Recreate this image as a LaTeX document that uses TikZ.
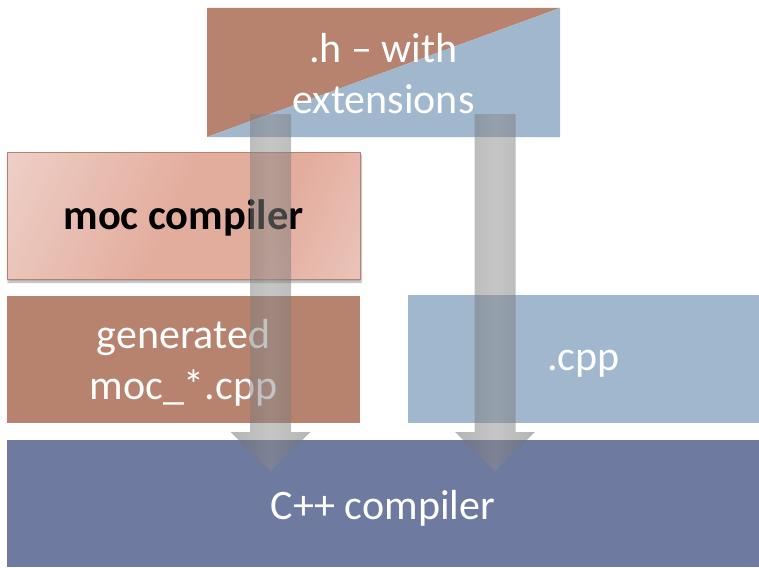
\documentclass[tikz,border=0pt]{standalone}
\usepackage{fontspec}
\setmainfont{Carlito}
\usetikzlibrary{calc,shadows.blur}
\definecolor{hbrown}{RGB}{183,131,111}
\definecolor{hblue}{RGB}{160,183,206}
\definecolor{cblue}{RGB}{111,122,161}
\definecolor{mocedge}{RGB}{184,128,112}
\definecolor{moclight}{RGB}{238,206,197}
\definecolor{mocmid}{RGB}{227,173,158}
\definecolor{mocend}{RGB}{236,200,190}
% soft pink fill: light corners, broad darker middle
\pgfdeclarehorizontalshading{mocfill}{100bp}{color(0bp)=(moclight); color(18bp)=(moclight);
  color(48bp)=(mocmid); color(66bp)=(mocmid); color(86bp)=(mocend); color(100bp)=(mocend)}
\tikzset{
  block/.style={inner sep=0pt, outer sep=0pt},
  caption/.style={inner sep=0pt, align=center, text=white,
    font=\fontsize{42}{51}\selectfont},
  fatarrow/.style={left color=black!58, right color=black!58, middle color=black!45,
    fill opacity=0.5},
}
% broad semi-transparent arrow from #1 (top of shaft) to #2 (tip)
\newcommand\fatarrow[2]{%
  \shade[fatarrow] ($(#1)+(-20.5,0)$) -- ($(#1)+(20.5,0)$) -- ($(#2)+(20.5,-39)$)
    -- ($(#2)+(40,-39)$) -- (#2) -- ($(#2)+(-40,-39)$) -- ($(#2)+(-20.5,-39)$) -- cycle;}
\begin{document}
\begin{tikzpicture}[x=1pt,y=-1pt]
\useasboundingbox (0,0) rectangle (759,567);

% header file, split diagonally
\node[block, minimum width=353pt, minimum height=129pt,
  path picture={
    \fill[hbrown] (path picture bounding box.north west) -- (path picture bounding box.north east)
      -- (path picture bounding box.south west) -- cycle;
    \fill[hblue] (path picture bounding box.south west) -- (path picture bounding box.north east)
      -- (path picture bounding box.south east) -- cycle;}]
  (h) at (383.5,72.5) {};
\node[caption] (htext) at ($(h.center)+(0,1)$) {.h – with\\extensions};

% moc compiler
\node[block, minimum width=353pt, minimum height=127pt, draw=mocedge, line width=1pt,
  shading=mocfill, shading angle=-25,
  blur shadow={shadow xshift=1pt, shadow yshift=-3pt, shadow blur steps=6, shadow opacity=35}]
  (moc) at (183.5,215.5) {};
\node[caption, text=black, font=\fontsize{42.5}{50}\selectfont\bfseries]
  (moctext) at ($(moc.center)+(0,2)$) {moc compiler};

% generated and hand-written sources
\node[block, fill=hbrown, minimum width=353pt, minimum height=127pt]
  (gen) at (183.5,359.5) {};
\node[caption] (gentext) at ($(gen.center)+(0,3)$) {generated\\moc\_*.cpp};
\node[block, fill=hblue, minimum width=351pt, minimum height=128pt]
  (cpp) at (583.5,359) {};
\node[caption] (cpptext) at ($(cpp.center)+(0,5)$) {.cpp};

% C++ compiler
\node[block, fill=cblue, minimum width=752pt, minimum height=127pt]
  (cxx) at (383,503.5) {};
\node[caption] (cxxtext) at ($(cxx.center)+(0,5)$) {C++ compiler};

% flow arrows
\coordinate (ltop) at (270.5,114);
\coordinate (ltip) at (270.5,471);
\coordinate (rtop) at (495,114);
\coordinate (rtip) at (495,471);
\fatarrow{ltop}{ltip}
\fatarrow{rtop}{rtip}
\end{tikzpicture}
\end{document}
